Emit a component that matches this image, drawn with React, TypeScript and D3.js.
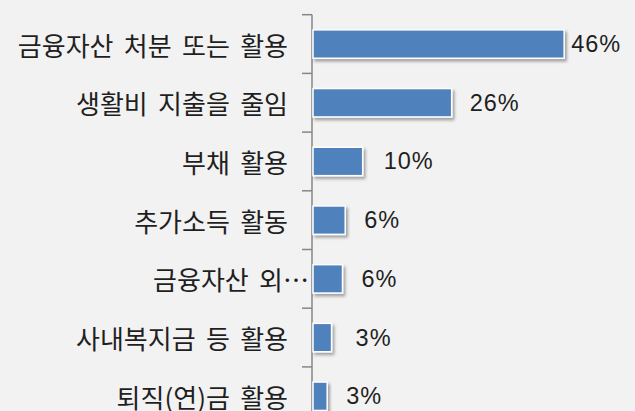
import React from 'react';
import * as d3 from 'd3';

// categories and values (top to bottom)
const categories = [
  '금융자산 처분 또는 활용',
  '생활비 지출을 줄임',
  '부채 활용',
  '추가소득 활동',
  '금융자산 외…',
  '사내복지금 등 활용',
  '퇴직(연)금 활용',
];
const values = [46.0, 25.4, 9.1, 5.9, 5.4, 3.4, 2.6];
const valueLabels = ['46%', '26%', '10%', '6%', '6%', '3%', '3%'];
// distance between bar end and its label, as placed in the source
const labelGap = [7, 18, 21, 19, 19, 24, 19];

const WIDTH = 635;
const HEIGHT = 411;
const AXIS_X = 312;
const TOP = 14.7;
const STEP = 58.7;
const LABEL_RIGHT = 288;

const App: React.FC = () => {
  const x = d3.scaleLinear().domain([0, 50]).range([AXIS_X + 1, AXIS_X + 1 + 50 * 5.46]);

  const y = d3.scaleBand<string>()
    .domain(categories)
    .range([TOP, TOP + STEP * categories.length])
    .paddingInner(0.516)
    .paddingOuter(0.258);

  const step = y.step();
  const tickYs = d3.range(categories.length + 1).map(i => TOP + i * step);

  return (
    <svg width={WIDTH} height={HEIGHT} style={{ position: 'absolute', left: 0, top: 0, background: '#f2f2f2' }}>
      <defs>
        <filter id="shadow" x="-20%" y="-20%" width="150%" height="160%">
          <feDropShadow dx="2" dy="2.5" stdDeviation="1.5" floodColor="#000" floodOpacity="0.35" />
        </filter>
      </defs>
      <rect width={WIDTH} height={HEIGHT} fill="#f2f2f2" />

      {/* category axis */}
      <line x1={AXIS_X} x2={AXIS_X} y1={TOP} y2={HEIGHT + 20} stroke="#868686" strokeWidth={1.5} />
      {tickYs.map((t, i) => (
        <line key={i} x1={AXIS_X - 10} x2={AXIS_X} y1={t} y2={t} stroke="#868686" strokeWidth={1.5} />
      ))}

      {categories.map((c, i) => {
        const by = y(c)!;
        const bw = x(values[i]) - x(0);
        const cy = by + y.bandwidth() / 2;
        const ellipsis = c.endsWith('…');
        return (
          <g key={c}>
            <rect
              x={x(0)}
              y={by}
              width={bw}
              height={y.bandwidth()}
              fill="#4f81bd"
              stroke="#ffffff"
              strokeWidth={1.5}
              filter="url(#shadow)"
            />
            <text
              x={LABEL_RIGHT + (ellipsis ? 21 : 0)}
              y={cy}
              textAnchor="end"
              dominantBaseline="central"
              fontFamily="'Noto Sans CJK KR', sans-serif"
              fontSize={26}
              wordSpacing={4.5}
              fill="#1f1f1f"
            >
              {c}
            </text>
            <text
              x={x(values[i]) + labelGap[i]}
              y={cy}
              dominantBaseline="central"
              fontFamily="'Liberation Sans', Arial, sans-serif"
              fontSize={23.5}
              letterSpacing={1}
              fill="#1f1f1f"
            >
              {valueLabels[i]}
            </text>
          </g>
        );
      })}
    </svg>
  );
};

export default App;
